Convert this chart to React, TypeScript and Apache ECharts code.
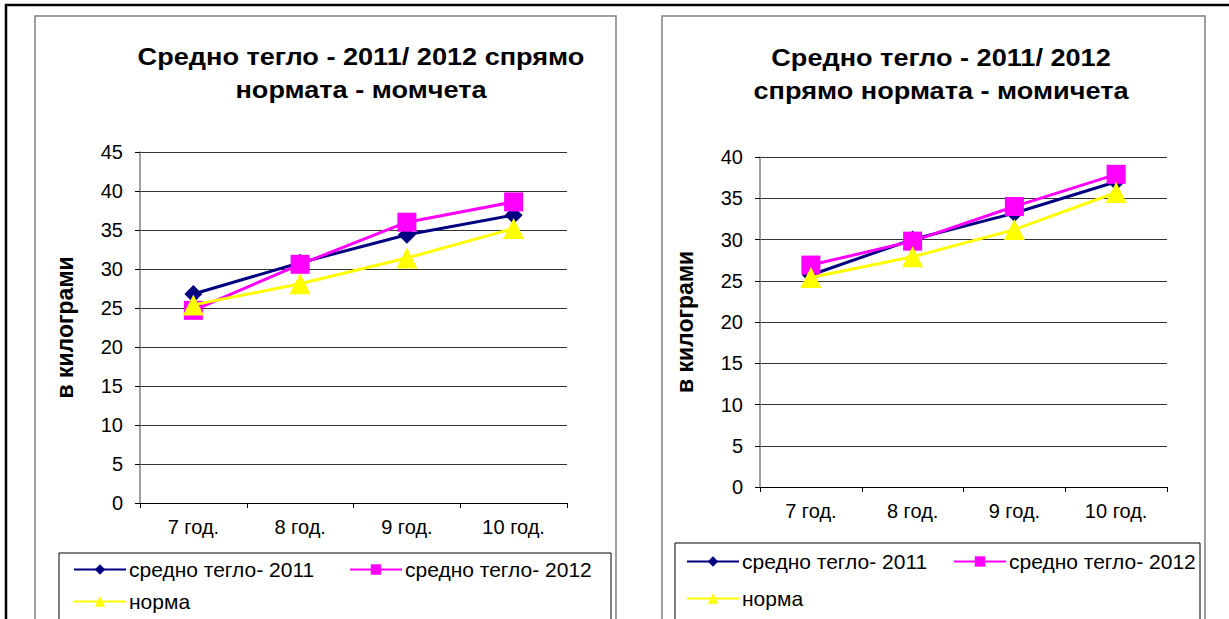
import React, { useEffect, useRef } from "react";
import * as echarts from "echarts";

const categories = ["7 год.", "8 год.", "9 год.", "10 год."];
const seriesNames = ["средно тегло- 2011", "средно тегло- 2012", "норма"];

// Left chart: boys
const boys2011 = [26.8, 30.8, 34.4, 36.9];
const boys2012 = [24.7, 30.6, 36.0, 38.6];
const boysNorm = [25.4, 28.1, 31.4, 35.2];

// Right chart: girls
const girls2011 = [25.7, 30.0, 33.2, 37.0];
const girls2012 = [26.9, 29.8, 34.0, 37.9];
const girlsNorm = [25.4, 27.9, 31.2, 35.7];

const titleLeft = ["Средно тегло - 2011/ 2012 спрямо", "нормата - момчета"];
const titleRight = ["Средно тегло - 2011/ 2012", "спрямо нормата - момичета"];
const yName = "в килограми";

const FONT = '"Liberation Sans", Arial, sans-serif';
const colors = ["#000080", "#FF00FF", "#FFFF00"];
const symbols = ["diamond", "rect", "triangle"];
const symbolSizes = [18, 19, 21];

export default function App() {
  const ref = useRef<HTMLDivElement>(null);
  useEffect(() => {
    if (!ref.current) return;
    const chart = echarts.init(ref.current, undefined, { renderer: "svg" });

    const mkX = (gridIndex: number) => ({
      type: "category",
      gridIndex,
      data: categories,
      boundaryGap: true,
      axisLine: { lineStyle: { color: "#000", width: 1 } },
      axisTick: { show: true, length: 5, lineStyle: { color: "#000" } },
      axisLabel: { color: "#000", fontSize: 20, fontFamily: FONT, margin: 14 },
      splitLine: { show: false },
    });
    const mkY = (gridIndex: number, max: number, gap: number) => ({
      type: "value",
      gridIndex,
      min: 0,
      max,
      interval: 5,
      name: yName,
      nameLocation: "middle",
      nameRotate: 90,
      nameGap: gap,
      nameTextStyle: { color: "#000", fontSize: 23, fontWeight: "bold", fontFamily: FONT },
      axisLine: { show: true, lineStyle: { color: "#808080", width: 1.5 } },
      axisTick: { show: true, length: 5, inside: false, lineStyle: { color: "#000" } },
      axisLabel: { color: "#000", fontSize: 20, fontFamily: FONT, margin: 17 },
      splitLine: { show: true, lineStyle: { color: "#333", width: 1 } },
    });

    const data = [
      [boys2011, boys2012, boysNorm],
      [girls2011, girls2012, girlsNorm],
    ];
    const series: any[] = [];
    data.forEach((set, gi) => {
      set.forEach((vals, si) => {
        series.push({
          type: "line",
          name: seriesNames[si],
          xAxisIndex: gi,
          yAxisIndex: gi,
          data: vals,
          symbol: symbols[si],
          symbolSize: symbolSizes[si],
          showAllSymbol: true,
          lineStyle: { color: colors[si], width: 3 },
          itemStyle: { color: colors[si] },
          z: 2 + si,
        });
      });
    });

    const mkLegend = (name: string, left: number, top: number) => ({
      data: [name],
      left,
      top,
      padding: 0,
      itemWidth: 52,
      itemHeight: 13,
      selectedMode: false,
      textStyle: { color: "#000", fontSize: 21, fontFamily: FONT, padding: [0, 0, 0, -2] },
    });

    const titleText = (lines: string[], cx: number, y0: number) =>
      lines.map((t, i) => ({
        type: "text",
        x: cx,
        y: y0 + i * 33,
        scaleX: 1.13,
        style: {
          text: t,
          fill: "#000",
          font: `bold 24px ${FONT}`,
          textAlign: "center",
          textVerticalAlign: "middle",
        },
      }));

    chart.setOption({
      animation: false,
      backgroundColor: "#fff",
      grid: [
        { left: 140, top: 152, width: 427, height: 351 },
        { left: 760, top: 157, width: 407, height: 330 },
      ],
      xAxis: [mkX(0), mkX(1)],
      yAxis: [mkY(0, 45, 64), mkY(1, 40, 64)],
      legend: [
        mkLegend(seriesNames[0], 73, 559),
        mkLegend(seriesNames[1], 349, 559),
        mkLegend(seriesNames[2], 73, 591),
        mkLegend(seriesNames[0], 686, 551),
        mkLegend(seriesNames[1], 953, 551),
        mkLegend(seriesNames[2], 686, 588),
      ],
      series,
      graphic: [
        // outer black frame (top and left)
        { type: "line", shape: { x1: 5, y1: 5, x2: 1229, y2: 5 }, style: { stroke: "#000", lineWidth: 2.5 } },
        { type: "line", shape: { x1: 6, y1: 4, x2: 6, y2: 619 }, style: { stroke: "#000", lineWidth: 2.5 } },
        // chart frames
        { type: "rect", shape: { x: 35, y: 16, width: 581, height: 700 }, style: { fill: "none", stroke: "#808080", lineWidth: 1.5 } },
        { type: "rect", shape: { x: 662, y: 16, width: 543, height: 700 }, style: { fill: "none", stroke: "#808080", lineWidth: 1.5 } },
        // legend boxes
        { type: "rect", shape: { x: 59, y: 553, width: 552, height: 100 }, style: { fill: "none", stroke: "#000", lineWidth: 1 } },
        { type: "rect", shape: { x: 675, y: 543, width: 525, height: 100 }, style: { fill: "none", stroke: "#000", lineWidth: 1 } },
        ...titleText(titleLeft, 361, 57),
        ...titleText(titleRight, 941, 58),
      ],
    });
    return () => chart.dispose();
  }, []);
  return (
    <div
      ref={ref}
      style={{ position: "fixed", left: 0, top: 0, width: 1229, height: 619, background: "#fff" }}
    />
  );
}
